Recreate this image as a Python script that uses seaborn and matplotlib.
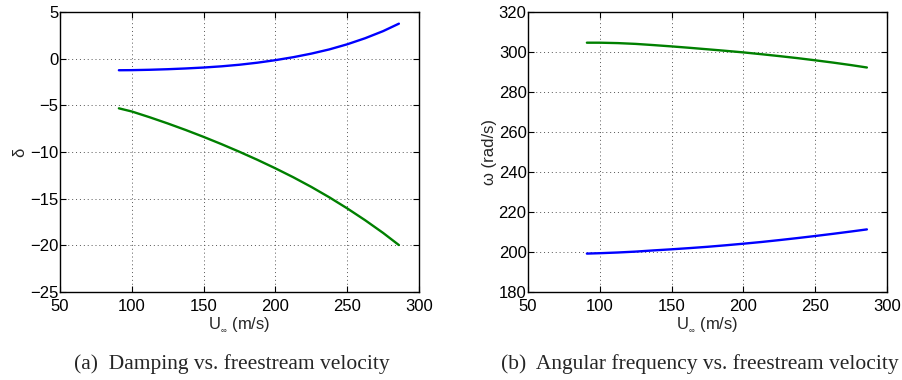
import matplotlib
matplotlib.use("Agg")
import matplotlib.pyplot as plt
import seaborn as sns
import pandas as pd

# Freestream velocity samples (m/s)
velocity = [91, 100, 112.5, 125, 137.5, 150, 162.5, 175, 187.5,
            200, 212.5, 225, 237.5, 250, 262.5, 275, 286]

# Damping of the two modes
damping_mode1 = [-1.24, -1.23, -1.19, -1.13, -1.05, -0.95, -0.82, -0.65, -0.43,
                 -0.16, 0.16, 0.54, 0.99, 1.54, 2.19, 2.95, 3.75]
damping_mode2 = [-5.32, -5.66, -6.28, -6.94, -7.64, -8.38, -9.16, -9.98, -10.84,
                 -11.75, -12.71, -13.74, -14.85, -16.04, -17.31, -18.67, -19.97]

# Angular frequency of the two modes (rad/s)
omega_mode1 = [199.2, 199.4, 199.75, 200.2, 200.8, 201.35, 201.95, 202.6, 203.35,
               204.15, 205.0, 205.95, 206.95, 208.0, 209.1, 210.25, 211.3]
omega_mode2 = [304.65, 304.65, 304.45, 304.05, 303.45, 302.8, 302.1, 301.35, 300.6,
               299.8, 298.9, 297.95, 296.95, 295.85, 294.7, 293.45, 292.25]

x_ticks = [50, 100, 150, 200, 250, 300]
damping_ticks = [5, 0, -5, -10, -15, -20, -25]
omega_ticks = [180, 200, 220, 240, 260, 280, 300, 320]

sns.set_style("ticks")
plt.rcParams["font.family"] = ["Liberation Sans", "DejaVu Sans"]
plt.rcParams["mathtext.fontset"] = "custom"
plt.rcParams["mathtext.rm"] = "Liberation Sans"
plt.rcParams["mathtext.it"] = "Liberation Sans"

blue = (0.0, 0.0, 1.0)
green = (0.0, 0.5, 0.0)
FS = 12

fig = plt.figure(figsize=(9.02, 3.80), dpi=100)
ax1 = fig.add_axes([60 / 902, 1 - 292 / 380, 359 / 902, 280 / 380])
ax2 = fig.add_axes([528 / 902, 1 - 292 / 380, 359 / 902, 280 / 380])

df_d = pd.DataFrame({"U": velocity, "m1": damping_mode1, "m2": damping_mode2})
df_w = pd.DataFrame({"U": velocity, "m1": omega_mode1, "m2": omega_mode2})

sns.lineplot(data=df_d, x="U", y="m1", ax=ax1, color=blue, lw=1.7)
sns.lineplot(data=df_d, x="U", y="m2", ax=ax1, color=green, lw=1.7)
sns.lineplot(data=df_w, x="U", y="m1", ax=ax2, color=blue, lw=1.7)
sns.lineplot(data=df_w, x="U", y="m2", ax=ax2, color=green, lw=1.7)


def style(ax, yticks):
    ax.set_xlim(50, 300)
    ax.set_ylim(min(yticks), max(yticks))
    ax.set_xticks(x_ticks)
    ax.set_yticks(yticks)
    ax.set_yticklabels([str(t).replace("-", "\u2212") for t in yticks])
    ax.grid(True, linestyle=(0, (1, 3)), color="#555555", lw=0.7)
    ax.tick_params(direction="in", top=True, right=True, length=4,
                   width=0.8, labelsize=FS, colors="black")
    ax.tick_params(axis="x", pad=5)
    ax.tick_params(axis="y", pad=1)
    for s in ax.spines.values():
        s.set_visible(True)
        s.set_linewidth(1.0)
        s.set_color("black")
    ax.set_xlabel(r"U$_{_{\infty}}$ (m/s)", fontsize=FS, labelpad=1)


style(ax1, damping_ticks)
style(ax2, omega_ticks)
ax1.set_ylabel("δ", fontsize=FS, labelpad=2)
ax2.set_ylabel("ω (rad/s)", fontsize=FS, labelpad=1)

cap_font = {"family": ["Liberation Serif", "DejaVu Serif"], "size": 15.5}
fig.text(232 / 902, 1 - 364 / 380, "(a)  Damping vs. freestream velocity",
         ha="center", va="center", fontdict=cap_font)
fig.text(700 / 902, 1 - 364 / 380, "(b)  Angular frequency vs. freestream velocity",
         ha="center", va="center", fontdict=cap_font)

fig.savefig("out.png", dpi=100)
